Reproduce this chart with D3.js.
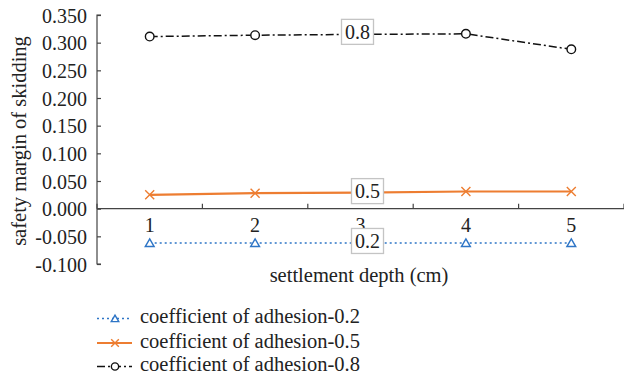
<!DOCTYPE html>
<html><head><meta charset="utf-8">
<script src="https://cdn.jsdelivr.net/npm/d3@7"></script>
<style>html,body{margin:0;padding:0;background:#fff;}svg{display:block;}</style>
</head><body>
<svg id="c" width="624" height="379"></svg>
<script>
const categories = ["1","2","3","4","5"];
const yTicks = [-0.1,-0.05,0,0.05,0.1,0.15,0.2,0.25,0.3,0.35];
const s02 = [-0.062,-0.062,-0.062,-0.062,-0.062];
const s05 = [0.025,0.028,0.029,0.031,0.031];
const s08 = [0.311,0.3135,0.315,0.316,0.288];
const seriesNames = ["coefficient of adhesion-0.2","coefficient of adhesion-0.5","coefficient of adhesion-0.8"];
const boxLabels = ["0.2","0.5","0.8"];

(function(){
const svg = d3.select("#c");
const FF = '"Liberation Serif"';
const numSize = 20, wordSize = 20.5;
const mLeft = 97, mRight = 624, mTop = 15, mBottom = 264;
const x = d3.scaleBand().domain(categories).range([mLeft, mRight]).padding(0);
const y = d3.scaleLinear().domain([-0.1, 0.35]).range([mBottom, mTop]);
const cx = c => x(c) + x.bandwidth()/2;
const txt = (sel, size) => sel.style("font-family", FF).style("font-size", size+"px").style("fill","#222");

// y axis
const ya = svg.append("g").attr("transform", `translate(${mLeft},0)`)
  .call(d3.axisRight(y).tickValues(yTicks).tickSize(4).tickFormat(d3.format(".3f")));
ya.select(".domain").attr("stroke","#444").attr("stroke-width",1.2).attr("d", `M4,${mTop}H0V${mBottom}H4`);
ya.selectAll(".tick line").attr("stroke","#444").attr("stroke-width",1.2);
txt(ya.selectAll(".tick text").attr("x",-10).attr("dy","0.35em").attr("text-anchor","end"), numSize)
  .text(d => d3.format(".3f")(d).replace("−","-"));

// x axis at 0
const xa = svg.append("g").attr("transform", `translate(0,${y(0)})`)
  .call(d3.axisTop(x).tickSize(0).tickFormat(""));
xa.select(".domain").attr("stroke","#444").attr("stroke-width",1.2).attr("d", `M${mLeft},0H${mRight}`);
xa.selectAll(".tick").remove();
const bounds = categories.map(c => x(c)).concat([mRight]);
xa.selectAll("line.b").data(bounds).enter().append("line")
  .attr("x1", d=>d).attr("x2", d=>d).attr("y1",0).attr("y2",-5).attr("stroke","#444").attr("stroke-width",1.2);
txt(svg.append("g").selectAll("text").data(categories).enter().append("text")
  .attr("x", d=>cx(d)).attr("y", y(0)+23).attr("text-anchor","middle"), numSize).text(d=>d);

// titles
txt(svg.append("text").attr("x",359).attr("y",282).attr("text-anchor","middle"), wordSize).text("settlement depth (cm)");
txt(svg.append("text").attr("transform",`translate(26,141) rotate(-90)`).attr("text-anchor","middle"), wordSize)
  .text("safety margin of skidding");

const series = [
  {vals:s02, color:"#2e75c6", dash:"2,3", width:1.6, marker:"tri"},
  {vals:s05, color:"#ed7d31", dash:null, width:2.2, marker:"x"},
  {vals:s08, color:"#111", dash:"8,3,2,3", width:1.5, marker:"circ"}
];
const line = d3.line().x((d,i)=>cx(categories[i])).y(d=>y(d));

function drawMarker(g, type, color, px, py, sc){
  sc = sc || 1;
  if(type==="tri"){
    g.append("path").attr("d", d3.symbol(d3.symbolTriangle, 34*sc*sc)()).attr("transform",`translate(${px},${py+1})`)
      .attr("fill","#fff").attr("stroke",color).attr("stroke-width",1.4);
  } else if(type==="x"){
    const r = 4.5*sc;
    g.append("path").attr("d",`M${px-r},${py-r}L${px+r},${py+r}M${px-r},${py+r}L${px+r},${py-r}`)
      .attr("stroke",color).attr("stroke-width",1.4);
  } else {
    g.append("circle").attr("cx",px).attr("cy",py).attr("r",4.3*sc).attr("fill","#fff").attr("stroke",color).attr("stroke-width",1.4);
  }
}

const boxOff = [[7,-2],[7,-1.5],[-3,-2.5]];
series.forEach((s,k)=>{
  const g = svg.append("g");
  g.append("path").datum(s.vals).attr("d",line).attr("fill","none").attr("stroke",s.color)
    .attr("stroke-width",s.width).attr("stroke-dasharray",s.dash);
  s.vals.forEach((v,i)=>{ if(i!==2) drawMarker(g, s.marker, s.color, cx(categories[i]), y(v)); });
  const bx = cx(categories[2]) + boxOff[k][0], by = y(s.vals[2]) + boxOff[k][1];
  const lg = svg.append("g");
  lg.append("rect").attr("x",bx-16).attr("y",by-12.5).attr("width",32).attr("height",25)
    .attr("fill","#fff").attr("stroke","#c4c4c4").attr("stroke-width",1.3);
  txt(lg.append("text").attr("x",bx).attr("y",by+7).attr("text-anchor","middle"), numSize).text(boxLabels[k]);
});

// legend
const ly = [323, 347.5, 371];
series.forEach((s,k)=>{
  const g = svg.append("g");
  g.append("line").attr("x1",97).attr("x2",132).attr("y1",ly[k]-4.5).attr("y2",ly[k]-4.5)
    .attr("stroke",s.color).attr("stroke-width",s.width).attr("stroke-dasharray",s.dash);
  drawMarker(g, s.marker, s.color, 115, ly[k]-4.5, 0.85);
  txt(g.append("text").attr("x",140).attr("y",ly[k]), wordSize).text(seriesNames[k]);
});
})();
</script>
</body></html>
